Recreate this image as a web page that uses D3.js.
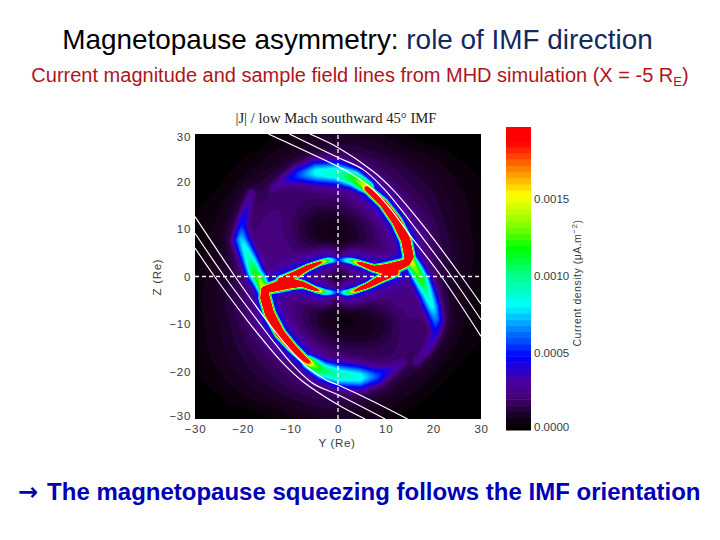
<!DOCTYPE html>
<html>
<head>
<meta charset="utf-8">
<script src="https://cdn.jsdelivr.net/npm/d3@7.9.0/dist/d3.min.js"></script>
<style>
  html, body { margin: 0; padding: 0; background: #fff; }
  svg { display: block; }
  text { font-family: "Liberation Sans", Arial, sans-serif; }
</style>
</head>
<body>
<svg id="chart" width="720" height="540"></svg>
<script>
// Current density colour bar (units of 1e-3 uA/m^2)
const colorValues = [0, 0.1, 0.2, 0.3, 0.46, 0.65, 0.79, 1.0, 1.16, 1.33, 1.51, 1.66, 1.85, 2.0];
const colorNames = ['#000000', '#200030', '#45007a', '#4a00a0', '#0000ff', '#0090ff', '#00ffff',
    '#00ff80', '#00ff00', '#90ff00', '#ffff00', '#ff9000', '#ff0000', '#ff0000'];
const barTicks = [0, 0.5, 1.0, 1.5];
const barLabels = ['0.0000', '0.0005', '0.0010', '0.0015'];
const axisTicks = [-30, -20, -10, 0, 10, 20, 30];

// Diffuse background read on a 5 Re grid, Z from +30 down to -30, Y from -30 to +30 (1e-4)
const hazeY = [-30, -25, -20, -15, -10, -5, 0, 5, 10, 15, 20, 25, 30];
const hazeZ = [30, 25, 20, 15, 10, 5, 0, -5, -10, -15, -20, -25, -30];
const hazeRows = [
    [0, 0, 0, 0, .4, .6, .8, .6, .3, 0, 0, 0, 0],
    [0, 0, .2, .6, 1, 1.4, 1.8, 1.7, 1.4, 1, .6, .3, 0],
    [0, .2, .6, 1.3, 1.7, 2.5, 3, 2.5, 2, 1.4, 1.1, .6, .3],
    [.2, .5, 1.1, 2.2, 2.2, 1.5, 1.5, 2.5, 2.8, 2, 1.3, .8, .4],
    [.3, .7, 1.4, 2.6, 1.8, .3, .1, 1, 2.4, 3, 1.6, .8, .4],
    [.4, .8, 1.4, 2.4, 2.4, 1.6, .6, 1.5, 2.2, 3, 2, 1, .4],
    [.4, .8, 1.6, 2.4, 2.6, 1.2, .1, 1.2, 2.6, 2.4, 1.6, .8, .4],
    [.4, 1, 2, 3, 2.2, 1.5, .5, 1.6, 2.4, 2.4, 1.4, .8, .4],
    [.4, .8, 1.6, 3, 2.4, 1, .1, .2, .5, 2.6, 1.4, .7, .3],
    [.4, .8, 1.3, 2, 2.8, 2.5, 1.6, 1.4, 1.8, 2.2, 1.1, .5, .2],
    [.3, .6, 1.1, 1.4, 2, 2.5, 3, 2.5, 1.7, 1.3, .6, .2, 0],
    [0, .3, .6, 1, 1.4, 1.7, 1.8, 1.4, 1, .6, .2, 0, 0],
    [0, 0, 0, 0, .3, .6, .8, .6, .4, 0, 0, 0, 0]
];

// Current sheets: [Y, Z, peak (1e-3), half width (Re)]
const armUpperRight = [[5.5, 19, 1.5, .9], [6.3, 18.3, 2.4, .6], [9.5, 15.4, 3.2, .62], [12.3, 11.6, 4.2, .65],
    [14.2, 7.7, 4.2, .68], [14.9, 4.2, 4.2, .68], [14.4, 2.9, 3, .65]];
const armLowerLeft = [[-5.5, -18.5, 1.5, .9], [-7, -17.4, 2.4, .6], [-9.5, -15, 3.2, .62], [-12.2, -11.9, 4.2, .65],
    [-14.4, -7.7, 4.2, .68], [-15.3, -4.5, 4.2, .7], [-15.4, -2.8, 3, .65]];
const wedgeRightTop = [[14.4, 2.9, 3, .65], [10.5, 1.5, 4.6, .8], [7.5, 1.7, 3, .5], [4.8, 2.7, 2.2, .42],
    [2.8, 3.3, 1.1, .55], [.6, 3.5, .6, .7]];
const wedgeRightLow = [[12, .9, 3, .6], [9, -.4, 3.4, .55], [6.5, -1.8, 3, .45], [3.8, -2.9, 2, .42],
    [2, -3.4, 1.1, .55], [.4, -3.3, .6, .7]];
const wedgeLeftLow = [[-15.4, -2.8, 3, .65], [-10.5, -1.4, 4.6, .8], [-7.5, -1.6, 3, .5], [-4.8, -2.7, 2.2, .42],
    [-2.8, -3.3, 1.1, .55], [-.6, -3.4, .6, .7]];
const wedgeLeftTop = [[-12, -.9, 3, .6], [-9, .4, 3.4, .55], [-6.5, 1.8, 3, .45], [-3.8, 2.9, 2, .42],
    [-2, 3.4, 1.1, .55], [-.4, 3.4, .6, .7]];
const arcTop = [[6.2, 18.8, 1.5, 1], [3.2, 20.7, 1.15, 1.5], [-.3, 21.8, .88, 1.9], [-4.5, 21.9, .8, 1.9],
    [-8, 21.4, .55, 1.6], [-11, 20.2, .34, 1.2], [-13.5, 18.6, .2, 1]];
const arcBottom = [[-6.2, -18, 1.5, 1], [-3.2, -19.8, 1.05, 1.5], [.3, -20.8, .88, 1.9], [4.5, -21.2, .82, 1.9],
    [8, -21, .55, 1.6], [11, -19.7, .34, 1.2], [13.5, -18.2, .2, 1]];
const armRightDown = [[15.3, 3.2, 1.5, 1], [16.3, 1.5, 1.3, 1.2], [17.5, -.7, 1.18, 1.3], [18.7, -3.5, .9, 1.4],
    [19.8, -6.5, .78, 1.4], [20.5, -9, .62, 1.3], [20.5, -11.5, .42, 1.1], [19, -15, .3, 1], [16.5, -18, .22, .9]];
const armLeftUp = [[-15.6, -2.6, 1.5, 1], [-16.4, -.8, 1.3, 1.2], [-17.4, .7, 1.18, 1.3], [-18.7, 4, .9, 1.4],
    [-20.2, 7.7, .74, 1.4], [-20.2, 10.5, .5, 1.1], [-19.3, 14, .36, 1], [-18.2, 17.5, .24, .9]];
const currentSheets = [armUpperRight, armLowerLeft, wedgeRightTop, wedgeRightLow, wedgeLeftLow, wedgeLeftTop,
    arcTop, arcBottom, armRightDown, armLeftUp];

// Sample field lines: [Y, Z]
const fieldOuterTop = [[-5.9, 30], [-.1, 27.2], [7.4, 22.1], [11.6, 18.2], [15.8, 13.3], [18.6, 9.8], [25.9, 0], [30, -5.8]];
const fieldMidTop = [[-10.2, 30], [-.1, 25.1], [5.3, 22.5], [9.5, 18.6], [13, 14.4], [16.5, 9.8], [23.8, 0], [30, -9.1]];
const fieldInnerTop = [[-14.6, 30], [-.1, 23.2], [2.5, 21.8], [6.7, 18.9], [10.9, 14.4], [14.8, 9.1], [21.7, 0], [30, -12.6]];
const fieldInnerLow = [[-30, 12.6], [-21.6, 0], [-14.8, -9.5], [-10.9, -14.4], [-6.7, -18.9], [-2.5, -21.8], [-.1, -22.8], [7.4, -26.3], [14.6, -30]];
const fieldMidLow = [[-30, 9.1], [-23.8, 0], [-16.5, -9.8], [-13, -14.4], [-9.5, -18.6], [-5.3, -22.5], [0, -24.9], [9.9, -30]];
const fieldOuterLow = [[-30, 6], [-25.9, 0], [-18.6, -9.8], [-15.8, -13.3], [-11.6, -18.2], [-7.4, -22.1], [0, -27], [5.7, -30]];
const fieldLines = [fieldOuterTop, fieldMidTop, fieldInnerTop, fieldInnerLow, fieldMidLow, fieldOuterLow];

const svg = d3.select('#chart');
const plot = { left: 195, right: 481, top: 134, bottom: 419 };
const x = d3.scaleLinear().domain([-30, 30]).range([plot.left, plot.right]);
const y = d3.scaleLinear().domain([-30, 30]).range([plot.bottom, plot.top]);
const color = d3.scaleLinear().domain(colorValues).range(colorNames).clamp(true);

// Headings
const title = svg.append('text').attr('x', 357.5).attr('y', 49).attr('text-anchor', 'middle').attr('font-size', 27.9);
title.append('tspan').attr('fill', '#000').text('Magnetopause asymmetry: ');
title.append('tspan').attr('fill', '#12295c').text('role of IMF direction');

const subtitle = svg.append('text').attr('x', 360).attr('y', 82).attr('text-anchor', 'middle')
    .attr('font-size', 20).attr('fill', '#b0141c');
subtitle.append('tspan').text('Current magnitude and sample field lines from MHD simulation (X = -5 R');
subtitle.append('tspan').attr('font-size', 13).attr('dy', 4).text('E');
subtitle.append('tspan').attr('dy', -4).text(')');

const footer = svg.append('text').attr('x', 18).attr('y', 500).attr('font-size', 24)
    .attr('font-weight', 'bold').attr('fill', '#0000b4');
footer.append('tspan').attr('font-family', 'DejaVu Sans').text('\u2192');
footer.append('tspan').attr('dx', 9).text('The magnetopause squeezing follows the IMF orientation');

svg.append('text').attr('x', 336).attr('y', 123).attr('text-anchor', 'middle').attr('font-size', 14.7)
    .attr('fill', '#222').style('font-family', '"Liberation Serif", serif')
    .text('|J| / low Mach southward 45\u00b0 IMF');

// Build the field on a fine grid
const n = 300;
const hazeYi = d3.scaleLinear().domain(hazeY).range(d3.range(hazeY.length)).clamp(true);
const hazeZi = d3.scaleLinear().domain(hazeZ).range(d3.range(hazeZ.length)).clamp(true);
const haze = new Float64Array(n * n);
const gridY = i => -30 + 60 * (i + 0.5) / n;
const gridZ = j => 30 - 60 * (j + 0.5) / n;
for (let j = 0; j < n; j++) {
    const fz = hazeZi(gridZ(j));
    const r0 = Math.min(Math.floor(fz), hazeZ.length - 2);
    for (let i = 0; i < n; i++) {
        const fy = hazeYi(gridY(i));
        const c0 = Math.min(Math.floor(fy), hazeY.length - 2);
        const top = d3.interpolateNumber(hazeRows[r0][c0], hazeRows[r0][c0 + 1])(fy - c0);
        const low = d3.interpolateNumber(hazeRows[r0 + 1][c0], hazeRows[r0 + 1][c0 + 1])(fy - c0);
        haze[j * n + i] = 0.1 * (top + (low - top) * (fz - r0));
    }
}
d3.blur2({ data: haze, width: n, height: n }, 10);

// strongest sheet contribution at a point, with the wide blue skirt around each sheet
function sheetValue(py, pz) {
    let best = 0;
    for (const sheet of currentSheets) {
        for (let k = 0; k < sheet.length - 1; k++) {
            const a = sheet[k], b = sheet[k + 1];
            const dy = b[0] - a[0], dz = b[1] - a[1];
            const t = Math.max(0, Math.min(1, ((py - a[0]) * dy + (pz - a[1]) * dz) / (dy * dy + dz * dz)));
            const ey = py - a[0] - t * dy, ez = pz - a[1] - t * dz;
            const d2 = ey * ey + ez * ez;
            if (d2 > 49) continue;
            const s = a[3] + t * (b[3] - a[3]);
            const peak = a[2] + t * (b[2] - a[2]);
            const core = peak * Math.exp(-d2 / (2 * s * s));
            const skirt = 0.42 * Math.min(1, peak / 1.2) * Math.exp(-d2 / 9.7);
            best = Math.max(best, core, skirt);
        }
    }
    return best;
}

const field = new Float64Array(n * n);
for (let j = 0; j < n; j++) {
    for (let i = 0; i < n; i++) {
        field[j * n + i] = Math.hypot(haze[j * n + i], sheetValue(gridY(i), gridZ(j)));
    }
}

// Heat map as stacked filled contours
const defs = svg.append('defs');
defs.append('clipPath').attr('id', 'plot-clip').append('rect')
    .attr('x', plot.left).attr('y', plot.top)
    .attr('width', plot.right - plot.left).attr('height', plot.bottom - plot.top);
defs.append('filter').attr('id', 'soft').attr('x', '-5%').attr('y', '-5%').attr('width', '110%').attr('height', '110%')
    .append('feGaussianBlur').attr('stdDeviation', 0.6);

const levels = d3.range(0.03, 1.9, 0.03);
const contours = d3.contours().size([n, n]).thresholds(levels)(field);
const cellX = (plot.right - plot.left) / n;
const cellY = (plot.bottom - plot.top) / n;
const path = d3.geoPath(d3.geoTransform({
    point(px, py) { this.stream.point(plot.left + px * cellX, plot.top + py * cellY); }
}));

const plotLayer = svg.append('g').attr('clip-path', 'url(#plot-clip)');
plotLayer.append('rect').attr('x', plot.left).attr('y', plot.top)
    .attr('width', plot.right - plot.left).attr('height', plot.bottom - plot.top).attr('fill', color(0));
plotLayer.append('g').attr('filter', 'url(#soft)')
    .selectAll('path').data(contours).join('path')
    .attr('d', path)
    .attr('fill', d => color(d.value));

// Field lines and dashed axes
const line = d3.line().x(d => x(d[0])).y(d => y(d[1])).curve(d3.curveCatmullRom.alpha(0.5));
plotLayer.append('g').selectAll('path').data(fieldLines).join('path')
    .attr('d', line)
    .attr('fill', 'none')
    .attr('stroke', '#fff')
    .attr('stroke-width', 1.2);

plotLayer.append('line').attr('x1', x(-30)).attr('x2', x(30)).attr('y1', y(0)).attr('y2', y(0))
    .attr('stroke', '#fff').attr('stroke-width', 1.3).attr('stroke-dasharray', '4,3');
plotLayer.append('line').attr('x1', x(0)).attr('x2', x(0)).attr('y1', y(-30)).attr('y2', y(30))
    .attr('stroke', '#fff').attr('stroke-width', 1.3).attr('stroke-dasharray', '4,3');

// Axes
const axisFill = '#3a3a3a';
const fmt = d => (d < 0 ? '\u2212' + Math.abs(d) : String(d));
const xAxis = svg.append('g').attr('transform', `translate(0,${plot.bottom})`)
    .call(d3.axisBottom(x).tickValues(axisTicks).tickFormat(fmt).tickSize(0).tickPadding(6));
const yAxis = svg.append('g').attr('transform', `translate(${plot.left},0)`)
    .call(d3.axisLeft(y).tickValues(axisTicks).tickFormat(fmt).tickSize(0).tickPadding(4));
[xAxis, yAxis].forEach(a => {
    a.select('.domain').remove();
    a.selectAll('text').attr('font-size', 11.5).attr('fill', axisFill)
        .style('font-family', '"Liberation Sans", Arial, sans-serif').style('letter-spacing', '0.7px');
});
yAxis.selectAll('.tick').filter(d => Math.abs(d) === 30).select('text').attr('dy', d => (d > 0 ? '0.6em' : '0.05em'));

svg.append('text').attr('x', 337).attr('y', 447).attr('text-anchor', 'middle').attr('font-size', 11.5)
    .attr('fill', axisFill).style('letter-spacing', '0.7px').text('Y (Re)');
svg.append('text').attr('transform', 'translate(161,277) rotate(-90)').attr('text-anchor', 'middle')
    .attr('font-size', 11.5).attr('fill', axisFill).style('letter-spacing', '0.7px').text('Z (Re)');

// Colour bar
const barTop = 1.97;
const barY = d3.scaleLinear().domain([0, barTop]).range([430, 127]);
const barSteps = d3.range(0, barTop, 0.04);
svg.append('g').selectAll('rect').data(barSteps).join('rect')
    .attr('x', 506).attr('width', 25)
    .attr('y', d => barY(Math.min(d + 0.04, barTop)))
    .attr('height', d => barY(d) - barY(Math.min(d + 0.04, barTop)) + 0.5)
    .attr('fill', d => color(d));
svg.append('g').selectAll('text').data(barTicks).join('text')
    .attr('x', 534)
    .attr('y', d => barY(d))
    .attr('dy', d => (d === 0 ? '0.1em' : '0.35em'))
    .attr('font-size', 11.5)
    .attr('fill', axisFill)
    .text((d, i) => barLabels[i]);

const barTitle = svg.append('text').attr('transform', 'translate(581,283) rotate(-90)').attr('text-anchor', 'middle')
    .attr('font-size', 10.5).attr('fill', axisFill).style('letter-spacing', '0.5px');
barTitle.append('tspan').text('Current density (\u03bcA.m');
barTitle.append('tspan').attr('font-size', 8).attr('dy', -4).text('\u22122');
barTitle.append('tspan').attr('dy', 4).text(')');
</script>
</body>
</html>
